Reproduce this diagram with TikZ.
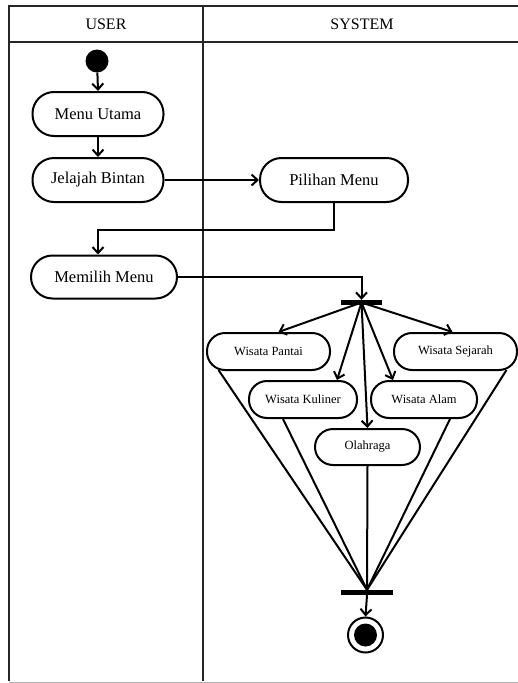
\documentclass[tikz,border=0pt]{standalone}
\usepackage{fontspec}
\setmainfont{Liberation Serif}
\usetikzlibrary{arrows.meta,calc}
\begin{document}
\begin{tikzpicture}[x=1pt,y=-1pt,
  lane/.style={line width=2.5pt,draw=black!85},
  act/.style={draw,line width=2pt,rounded corners=21.5pt,inner sep=0pt,font=\fontsize{16.5}{18}\selectfont},
  subact/.style={draw,line width=2pt,rounded corners=18pt,inner sep=0pt,minimum height=37pt,font=\fontsize{12.5}{14}\selectfont},
  bar/.style={fill=black,inner sep=0pt,minimum height=5pt},
  arr/.style={line width=2pt,-{Straight Barb[length=6pt,width=11pt]}},
  ln/.style={line width=2pt}]
\useasboundingbox (0,0) rectangle (517,683);
\fill[white] (0,0) rectangle (517,683);
% swimlanes
\draw[lane] (9,681) -- (9,6) -- (530,6);
\draw[lane] (9,42) -- (530,42);
\draw[lane] (203,6) -- (203,681);
\draw[gray!60,line width=1pt] (9,682) -- (530,682);
\node[font=\fontsize{16}{18}\selectfont] (huser) at (106,24) {USER};
\node[font=\fontsize{16}{18}\selectfont] (hsys) at (362,24) {SYSTEM};
% user lane
\node[circle,fill=black,minimum size=23pt,inner sep=0pt] (start) at (97,61) {};
\node[act,minimum width=131pt,minimum height=44pt] (mu) at (98,114) {Menu Utama};
\node[act,minimum width=131pt,minimum height=44pt] (jb) at (98,180) {Jelajah Bintan};
\node[act,minimum width=146pt,minimum height=43pt] (mm) at (104,277) {Memilih Menu};
% system lane
\node[act,minimum width=148pt,minimum height=44pt] (pm) at (334,180) {Pilihan Menu};
\node[bar,minimum width=41pt] (fork) at (361.5,302.5) {};
\node[subact,minimum width=123pt] (wp) at (268.5,351.5) {Wisata Pantai};
\node[subact,minimum width=123pt] (ws) at (455.5,351.5) {Wisata Sejarah};
\node[subact,minimum width=108pt] (wk) at (303,399.5) {Wisata Kuliner};
\node[subact,minimum width=106pt] (wa) at (424,399.5) {Wisata Alam};
\node[subact,minimum width=105pt,minimum height=36pt] (ol) at (367.5,447) {Olahraga};
\node[bar,minimum width=52pt] (join) at (367,592.5) {};
\node[circle,draw,line width=2pt,minimum size=35pt,inner sep=0pt] (end) at (365.5,635) {};
\fill (end.center) circle (11.5);
% flow
\draw[arr] (start) -- (mu.north);
\draw[arr] (mu.south) -- (jb.north);
\draw[arr] (jb.east) -- (pm.west);
\draw[arr] (pm.south) -- ++(0,27) -| ($(mm.north)+(-6,0)$);
\draw[arr] (mm.east) -| (fork.north);
\draw[arr] (fork.center) -- ($(wp.north)+(10,0)$);
\draw[arr] (fork.center) -- ($(wk.north)+(34,0)$);
\draw[arr] (fork.center) -- (ol.north);
\draw[arr] (fork.center) -- ($(wa.north)+(-31,0)$);
\draw[arr] (fork.center) -- ($(ws.north)+(-3,0)$);
\draw[ln] ($(wp.south)+(-50,-1)$) -- (join.north);
\draw[ln] ($(wk.south)+(-20,0)$) -- (join.north);
\draw[ln] (ol.south) -- (join.north);
\draw[ln] ($(wa.south)+(26,0)$) -- (join.north);
\draw[ln] ($(ws.south)+(51,-1)$) -- (join.north);
\draw[arr] (join.south) -- (end.north);
\end{tikzpicture}
\end{document}
